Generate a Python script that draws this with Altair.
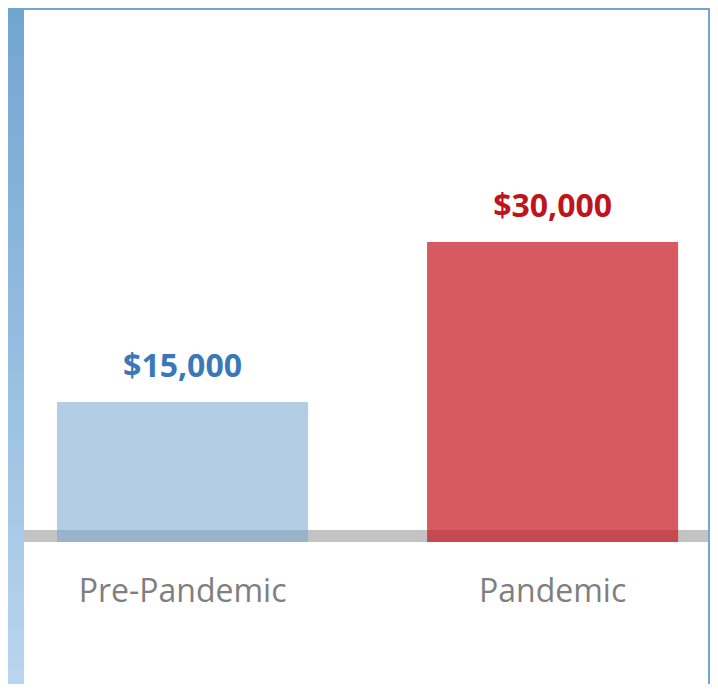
import altair as alt
import pandas as pd

categories = ["Pre-Pandemic", "Pandemic"]
values = [15000, 30000]
labels = ["$15,000", "$30,000"]
bar_colors = ["#77a6cf", "#c61a21"]
bar_opacity = [0.56, 0.72]
label_colors = ["#3a78b8", "#c0141c"]
base_value = 1875
band_top = 3000
cat_label_y = -3750

df = pd.DataFrame({
    "cat": categories,
    "value": values,
    "label": labels,
    "bar_color": bar_colors,
    "op": bar_opacity,
    "label_color": label_colors,
    "base": [base_value] * len(categories),
    "cat_y": [cat_label_y] * len(categories),
})

W, H = 684, 674
x = alt.X("cat:N", sort=categories, axis=None,
          scale=alt.Scale(paddingInner=0.3216, paddingOuter=0.085, align=0.525))
yscale = alt.Scale(domain=[-11437.5, 51750], nice=False, zero=False)

base = alt.Chart(df)

strip = alt.Chart(pd.DataFrame({"k": [0]})).mark_rect(
    color=alt.Gradient(gradient="linear", x1=0, y1=0, x2=0, y2=1,
                       stops=[alt.GradientStop(color="#72a4d1", offset=0),
                              alt.GradientStop(color="#b9d5ef", offset=1)]),
    clip=False,
).encode(x=alt.value(-16), x2=alt.value(0), y=alt.value(-2), y2=alt.value(H))

band = alt.Chart(pd.DataFrame({"a": [base_value], "b": [band_top]})).mark_rect(
    color="#c3c3c3"
).encode(
    x=alt.value(0), x2=alt.value(W),
    y=alt.Y("a:Q", scale=yscale, axis=None), y2="b:Q",
)

bars = base.mark_bar().encode(
    x=x,
    y=alt.Y("value:Q", scale=yscale, axis=None),
    y2="base:Q",
    color=alt.Color("bar_color:N", scale=None),
    opacity=alt.Opacity("op:Q", scale=None),
)

vlabels = base.mark_text(
    font="Open Sans", fontSize=32, fontWeight="bold", baseline="alphabetic", dy=-25
).encode(
    x=x,
    y=alt.Y("value:Q", scale=yscale, axis=None),
    text="label:N",
    color=alt.Color("label_color:N", scale=None),
)

clabels = base.mark_text(
    font="Open Sans", fontSize=32, baseline="alphabetic", color="#7f7f7f"
).encode(
    x=x,
    y=alt.Y("cat_y:Q", scale=yscale, axis=None),
    text="cat:N",
)

chart = alt.layer(strip, band, bars, vlabels, clabels).properties(
    width=W, height=H,
    padding={"left": 16, "top": 2, "right": 2, "bottom": 0},
    autosize="none",
    background="#74a6d2",
).configure_view(fill="white", strokeWidth=0)

chart.save("out.html", embed_options={"renderer": "svg", "actions": False})
